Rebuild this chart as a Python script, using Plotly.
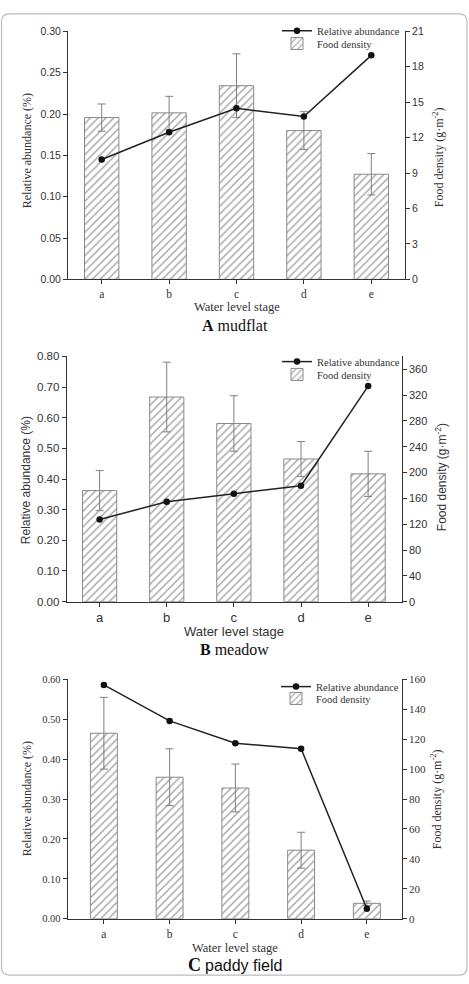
import plotly.graph_objects as go

W, H = 469, 984
stages = ["a", "b", "c", "d", "e"]

# Panel A (mudflat)
food_A = [13.7, 14.1, 16.4, 12.6, 8.9]
food_err_A = [1.15, 1.4, 2.7, 1.6, 1.75]
rel_A = [0.145, 0.178, 0.207, 0.197, 0.271]
# Panel B (meadow)
food_B = [172, 317, 276, 221, 198]
food_err_B = [31, 54, 43, 27, 35]
rel_B = [0.268, 0.326, 0.352, 0.378, 0.703]
# Panel C (paddy field)
food_C = [124, 94.6, 87.4, 45.8, 10.3]
food_err_C = [24, 19, 16, 12, 1.5]
rel_C = [0.586, 0.496, 0.440, 0.426, 0.025]

SERIF = "Liberation Serif, Times New Roman, serif"
SANS = "Liberation Sans, Arial, sans-serif"
TXT = "#333333"

def px_x(p):
    return p / W

def px_y(p):
    return 1 - p / H

panels = [
    dict(food=food_A, err=food_err_A, rel=rel_A, x0=68, x1=405, yt=25.7, yb=276.7,
         lrange=[0, 0.30], ldtick=0.05, rrange=[0, 21], rdtick=3, bw=0.51,
         xr=[-0.5, 4.5], lfont=SANS, rfont=SANS, xfont=SERIF, tfont=SERIF,
         legx=277, legy=(25, 38), title="<b>A</b> mudflat", title_y=323, xtitle_y=305,
         ltitle=(27, 147), rtitle=(438, 153), lsz=10.5, rsz=10.5, xsz=11.5, tsz=12.5),
    dict(food=food_B, err=food_err_B, rel=rel_B, x0=66.7, x1=401.7, yt=354.7, yb=603,
         lrange=[0, 0.80], ldtick=0.1, rrange=[0, 380], rdtick=40, bw=0.51,
         xr=[-0.49, 4.5], lfont=SANS, rfont=SANS, xfont=SANS, tfont=SANS,
         legx=277, legy=(360, 373), title="<b>B</b> meadow", title_y=651, xtitle_y=633,
         ltitle=(26, 480), rtitle=(441, 477), lsz=11.5, rsz=11, xsz=13, tsz=13),
    dict(food=food_C, err=food_err_C, rel=rel_C, x0=67.7, x1=401.7, yt=681.7, yb=924,
         lrange=[0, 0.60], ldtick=0.1, rrange=[0, 160], rdtick=20, bw=0.41,
         xr=[-0.55, 4.53], lfont=SERIF, rfont=SERIF, xfont=SERIF, tfont=SERIF,
         legx=276, legy=(689, 701),
         title="<b><span style='font-size:18px'>C</span></b> <span style='font-family:Liberation Sans'>paddy field</span>",
         title_y=971, xtitle_y=954, ltitle=(27, 803), rtitle=(436, 803),
         lsz=10.5, rsz=11, xsz=11.5, tsz=12.5),
]

fig = go.Figure()
layout = dict(width=W, height=H, margin=dict(l=0, r=0, t=0, b=0),
              paper_bgcolor="white", plot_bgcolor="white", showlegend=True)
annotations = []

for i, p in enumerate(panels):
    n = i + 1
    xa = "x" if n == 1 else f"x{n}"
    ya_r = f"y{2*n-1}" if n > 1 else "y"
    ya_l = f"y{2*n}"
    leg_line = "legend" if n == 1 else f"legend{2*n-1}"
    leg_bar = f"legend{2*n}"

    fig.add_trace(go.Bar(
        x=stages, y=p["food"], name="Food density", xaxis=xa, yaxis=ya_r,
        width=p["bw"], legend=leg_bar,
        marker=dict(color="white", line=dict(color="#8a8a8a", width=1),
                    pattern=dict(shape="/", fgcolor="#444444", bgcolor="white",
                                 size=5.5, solidity=0.25)),
        error_y=dict(type="data", array=p["err"], color="#808080", thickness=1, width=4),
    ))
    fig.add_trace(go.Scatter(
        x=stages, y=p["rel"], name="Relative abundance", xaxis=xa, yaxis=ya_l,
        mode="lines+markers", legend=leg_line,
        line=dict(color="#222222", width=1.5),
        marker=dict(color="#111111", size=6.5, symbol="circle"),
    ))

    xdom = [px_x(p["x0"]), px_x(p["x1"])]
    ydom = [px_y(p["yb"]), px_y(p["yt"])]
    xkey = "xaxis" if n == 1 else f"xaxis{n}"
    rkey = "yaxis" if n == 1 else f"yaxis{2*n-1}"
    lkey = f"yaxis{2*n}"
    layout[xkey] = dict(domain=xdom, anchor=ya_r, range=p["xr"], showgrid=False,
                        showline=True, linecolor=TXT, linewidth=1, ticks="outside",
                        ticklen=4, tickcolor=TXT, zeroline=False,
                        tickfont=dict(family=p["xfont"], size=p["xsz"], color=TXT))
    layout[rkey] = dict(domain=ydom, anchor=xa, side="right", range=p["rrange"],
                        dtick=p["rdtick"], tick0=0, showgrid=False, zeroline=False,
                        showline=True, linecolor=TXT, linewidth=1, ticks="outside",
                        ticklen=4, tickcolor=TXT,
                        tickfont=dict(family=p["rfont"], size=p["rsz"], color=TXT))
    layout[lkey] = dict(overlaying=ya_r, anchor=xa, side="left", range=p["lrange"],
                        dtick=p["ldtick"], tick0=0, tickformat=".2f", showgrid=False,
                        zeroline=False, showline=True, linecolor=TXT, linewidth=1,
                        ticks="outside", ticklen=4, tickcolor=TXT,
                        tickfont=dict(family=p["lfont"], size=p["lsz"], color=TXT))
    for lg, yy in ((leg_line, p["legy"][0]), (leg_bar, p["legy"][1])):
        layout[lg] = dict(x=px_x(p["legx"]), y=px_y(yy), xanchor="left",
                          yanchor="middle", bgcolor="rgba(0,0,0,0)",
                          font=dict(family=SERIF, size=10.5, color=TXT),
                          itemwidth=30, borderwidth=0)

    annotations.append(dict(text=p["title"], x=0.5, y=px_y(p["title_y"]), xref="paper",
                            yref="paper", showarrow=False, xanchor="center", yanchor="middle",
                            font=dict(family=SERIF, size=16, color="#111111")))
    annotations.append(dict(text="Water level stage", x=(xdom[0] + xdom[1]) / 2,
                            y=px_y(p["xtitle_y"]), xref="paper", yref="paper",
                            showarrow=False, xanchor="center", yanchor="middle",
                            font=dict(family=p["tfont"], size=p["tsz"], color=TXT)))
    annotations.append(dict(text="Relative abundance (%)", x=px_x(p["ltitle"][0]),
                            y=px_y(p["ltitle"][1]), xref="paper", yref="paper",
                            showarrow=False, textangle=-90, xanchor="center", yanchor="middle",
                            font=dict(family=p["tfont"], size=12, color=TXT)))
    annotations.append(dict(text="Food density (g·m<sup>-2</sup>)", x=px_x(p["rtitle"][0]),
                            y=px_y(p["rtitle"][1]), xref="paper", yref="paper",
                            showarrow=False, textangle=-90, xanchor="center", yanchor="middle",
                            font=dict(family=p["tfont"], size=12, color=TXT)))

# rounded border
x0, x1, y0, y1 = px_x(1.5), px_x(467), px_y(981), px_y(8)
rx, ry = 8 / W, 8 / H
path = (f"M {x0+rx},{y1} L {x1-rx},{y1} Q {x1},{y1} {x1},{y1-ry} L {x1},{y0+ry} "
        f"Q {x1},{y0} {x1-rx},{y0} L {x0+rx},{y0} Q {x0},{y0} {x0},{y0+ry} "
        f"L {x0},{y1-ry} Q {x0},{y1} {x0+rx},{y1} Z")
layout["shapes"] = [dict(type="path", path=path, xref="paper", yref="paper",
                         line=dict(color="#bbbbbb", width=1.2))]
layout["annotations"] = annotations
fig.update_layout(**layout)
fig.write_html("out.html")
